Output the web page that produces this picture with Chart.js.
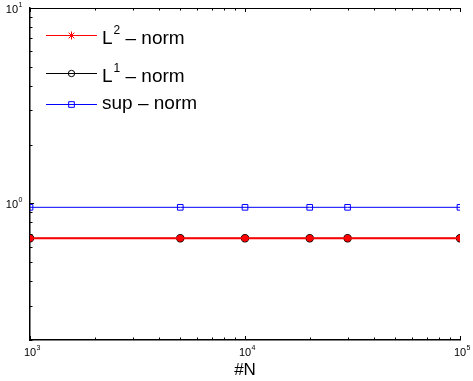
<!DOCTYPE html>
<html>
<head>
<meta charset="utf-8">
<script src="https://cdn.jsdelivr.net/npm/chart.js@4.4.0/dist/chart.umd.min.js"></script>
<style>
  html, body { margin: 0; padding: 0; background: #fff; }
  #wrap { width: 473px; height: 381px; }
</style>
</head>
<body>
<div id="wrap"><canvas id="normChart" width="473" height="381"></canvas></div>
<script>
var sizes = [1000, 5000, 10000, 20000, 30000, 100000];
var l2Norm = [0.663, 0.663, 0.663, 0.663, 0.663, 0.663];
var l1Norm = [0.663, 0.663, 0.663, 0.663, 0.663, 0.663];
var supNorm = [0.955, 0.955, 0.955, 0.955, 0.955, 0.955];
var xTickValues = [1000, 10000, 100000];
var yTickValues = [1, 10];
var legendMain = ["L", "L", "sup"];
var legendSup = ["2", "1", ""];
var legendRest = [" \u2013 norm", " \u2013 norm", " \u2013 norm"];

var FONT = "'Liberation Sans', Arial, Helvetica, sans-serif";

function pts(values) {
    return sizes.map(function (n, i) { return { x: n, y: values[i] }; });
}

// "10" with a raised exponent, like the matlab tick labels
function drawPow(ctx, v, x, y, align) {
    var e = String(Math.round(Math.log10(v)));
    ctx.font = "11px " + FONT;
    var wBase = ctx.measureText("10").width;
    ctx.font = "7px " + FONT;
    var wExp = ctx.measureText(e).width;
    var left;
    if (align === "center") left = x - wBase / 2;
    else left = x - wBase - wExp - 1;
    ctx.font = "11px " + FONT;
    ctx.fillText("10", left, y);
    ctx.font = "7px " + FONT;
    ctx.fillText(e, left + wBase + 0.5, y - 6);
}

// MATLAB-like inward ticks, top border, tick labels
var axesBox = {
    id: "axesBox",
    afterDraw: function (chart) {
        var ctx = chart.ctx;
        var a = chart.chartArea;
        var xs = chart.scales.x, ys = chart.scales.y;
        ctx.save();
        ctx.strokeStyle = "#000";
        ctx.lineWidth = 1;
        ctx.beginPath();
        ctx.moveTo(a.left, a.top + 0.5);
        ctx.lineTo(a.right, a.top + 0.5);
        ctx.stroke();

        ctx.beginPath();
        for (var d = 1000; d < 100000; d *= 10) {
            for (var k = 1; k <= 10; k++) {
                var v = d * k;
                var px = Math.round(xs.getPixelForValue(v)) + 0.5;
                var len = (k === 1 || k === 10) ? 4 : 2.5;
                ctx.moveTo(px, a.bottom);
                ctx.lineTo(px, a.bottom - len);
                ctx.moveTo(px, a.top);
                ctx.lineTo(px, a.top + len);
            }
        }
        for (var d2 = 0.1; d2 < 10; d2 *= 10) {
            for (var j = 1; j <= 9; j++) {
                var val = d2 * j;
                if (val < 0.2 - 1e-9) continue;
                var py = Math.round(ys.getPixelForValue(val)) + 0.5;
                var ln = (j === 1) ? 4 : 2.5;
                ctx.moveTo(a.left, py);
                ctx.lineTo(a.left + ln, py);
            }
        }
        ctx.stroke();

        ctx.fillStyle = "#000";
        ctx.textAlign = "left";
        ctx.textBaseline = "alphabetic";
        xs.ticks.forEach(function (t) {
            drawPow(ctx, t.value, xs.getPixelForValue(t.value), a.bottom + 16, "center");
        });
        ys.ticks.forEach(function (t) {
            drawPow(ctx, t.value, a.left - 7, ys.getPixelForValue(t.value) + 4.5, "right");
        });
        ctx.restore();
    }
};

var styles = [
    { color: "#ff0000", style: "star", radius: 4 },
    { color: "#000000", style: "circle", radius: 3.2 },
    { color: "#0000ff", style: "rect", radius: 4 }
];

var normLegend = {
    id: "normLegend",
    afterDraw: function (chart) {
        var ctx = chart.ctx;
        var lineY = [35, 73, 104];
        var baseY = [44, 82, 109];
        ctx.save();
        for (var i = 0; i < 3; i++) {
            var s = styles[i];
            ctx.strokeStyle = s.color;
            ctx.fillStyle = "rgba(0,0,0,0)";
            ctx.lineWidth = 1;
            ctx.beginPath();
            ctx.moveTo(46, lineY[i] + 0.5);
            ctx.lineTo(97, lineY[i] + 0.5);
            ctx.stroke();
            Chart.helpers.drawPoint(ctx, { pointStyle: s.style, radius: s.radius, borderWidth: 1, rotation: 0 }, 71.5, lineY[i] + 0.5);

            ctx.fillStyle = "#000";
            ctx.textBaseline = "alphabetic";
            ctx.textAlign = "left";
            var x = 102;
            ctx.font = "19px " + FONT;
            ctx.fillText(legendMain[i], x, baseY[i]);
            x += ctx.measureText(legendMain[i]).width;
            if (legendSup[i]) {
                ctx.font = "12px " + FONT;
                ctx.fillText(legendSup[i], x + 1, baseY[i] - 10);
                x += ctx.measureText(legendSup[i]).width + 1;
                ctx.font = "19px " + FONT;
            }
            ctx.fillText(legendRest[i], x, baseY[i]);
        }
        ctx.restore();
    }
};

new Chart(document.getElementById("normChart").getContext("2d"), {
    type: "line",
    data: {
        datasets: [
            {
                label: "L2 - norm",
                data: pts(l2Norm),
                borderColor: "#ff0000",
                backgroundColor: "#ff0000",
                borderWidth: 2,
                pointStyle: "star",
                pointRadius: 3.5,
                pointBorderWidth: 2,
                pointBorderColor: "#ff0000",
                order: 0
            },
            {
                label: "L1 - norm",
                data: pts(l1Norm),
                borderColor: "#000000",
                backgroundColor: "#ff4040",
                borderWidth: 1,
                pointStyle: "circle",
                pointRadius: 3.6,
                pointBorderWidth: 1.2,
                pointBackgroundColor: "#ff4040",
                order: 1
            },
            {
                label: "sup - norm",
                data: pts(supNorm),
                borderColor: "#0000ff",
                backgroundColor: "rgba(0,0,0,0)",
                borderWidth: 1,
                pointStyle: "rect",
                pointRadius: 4,
                pointBorderWidth: 1,
                pointBackgroundColor: "rgba(0,0,0,0)",
                order: 2
            }
        ]
    },
    options: {
        responsive: false,
        animation: false,
        devicePixelRatio: 1,
        layout: { padding: { top: 8, right: 13, left: 0, bottom: 0 } },
        plugins: {
            legend: { display: false },
            tooltip: { enabled: false }
        },
        scales: {
            x: {
                type: "logarithmic",
                min: 1000,
                max: 100000,
                afterBuildTicks: function (scale) {
                    scale.ticks = xTickValues.map(function (v) { return { value: v }; });
                },
                afterFit: function (scale) { scale.height = 41; },
                grid: { display: false, drawTicks: false },
                border: { display: true, color: "#000", width: 1.5 },
                ticks: { display: false },
                title: {
                    display: true,
                    text: "#N",
                    color: "#000",
                    font: { family: FONT, size: 17 },
                    padding: { top: 0, bottom: 0 }
                }
            },
            y: {
                type: "logarithmic",
                min: 0.2,
                max: 10,
                afterBuildTicks: function (scale) {
                    scale.ticks = yTickValues.map(function (v) { return { value: v }; });
                },
                afterFit: function (scale) { scale.width = 30; },
                grid: { display: false, drawTicks: false },
                border: { display: true, color: "#000", width: 1.5 },
                ticks: { display: false }
            }
        }
    },
    plugins: [axesBox, normLegend]
});
</script>
</body>
</html>
